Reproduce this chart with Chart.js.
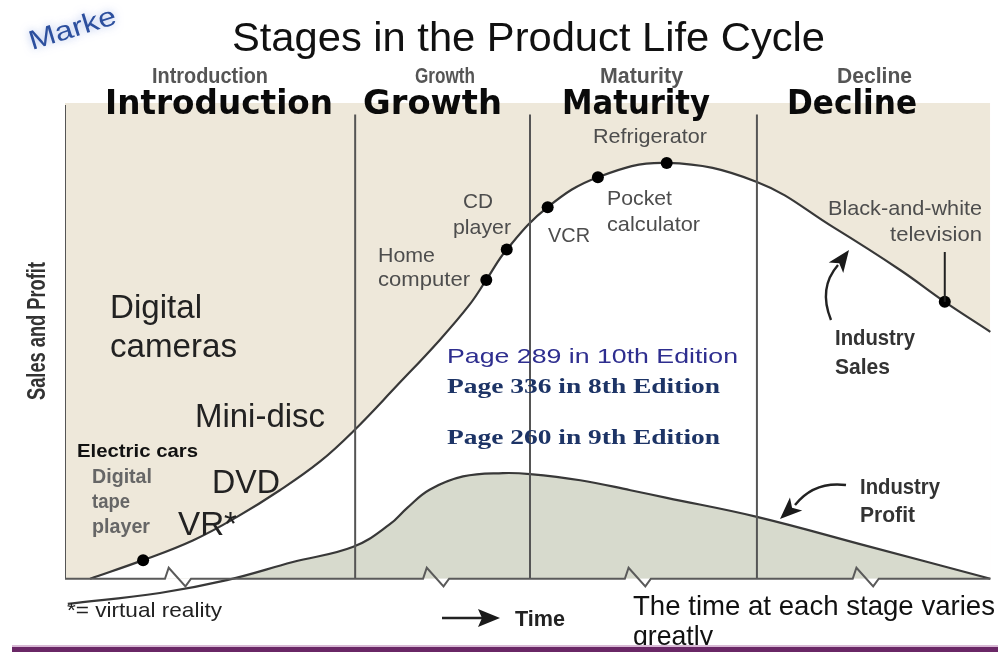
<!DOCTYPE html>
<html>
<head>
<meta charset="utf-8">
<style>
  html, body { margin: 0; padding: 0; background: #fff; overflow: hidden; }
  canvas { display: block; }
</style>
<script src="https://cdn.jsdelivr.net/npm/chart.js@4/dist/chart.umd.min.js"></script>
</head>
<body>
<canvas id="plc" width="998" height="652" style="width:998px;height:652px"></canvas>
<script>
// Industry sales curve (time 0-100, sales index)
const salesX = [2.7, 8.4, 13.8, 18.5, 23.1, 27.4, 31.0, 35.7, 40.3, 43.5, 45.3, 47.5, 51.9, 57.3, 64.7, 74.4, 82.6, 89.8, 94.6, 99.5];
const salesY = [0, 3.9, 8.1, 13.0, 18.6, 24.6, 31.0, 40.6, 50.2, 57.6, 62.8, 69.2, 78.1, 84.4, 87.4, 83.4, 73.9, 64.9, 58.2, 51.9];
// products sitting on the sales curve ('' = no dot)
const productLabels = ['', 'Digital tape player', '', '', '', '', '', '', '', '', 'Home computer', 'CD player', 'VCR', 'Pocket calculator', 'Refrigerator', '', '', '', 'Black-and-white television', ''];

// Industry profit curve
const profitX = [0.3, 10.2, 17.4, 24.5, 31.0, 34.9, 36.8, 39.2, 42.8, 47.1, 50.0, 55.4, 60.8, 64.7, 74.4, 86.2, 99.5];
const profitY = [-5.3, -3.0, -0.3, 3.5, 6.7, 11.4, 14.9, 18.7, 21.5, 22.2, 22.0, 20.7, 18.6, 17.0, 13.0, 6.9, 0];

// stages and where they end on the time axis
const stageNames = ['Introduction', 'Growth', 'Maturity', 'Decline'];
const stageBounds = [31.2, 50.0, 74.4];
// the little zigzag breaks on the time axis
const breakMarks = [10.75, 38.5, 60.2, 84.7];

// colours
const beige = '#eee8da';
const profitGrey = '#d7dacd';
const curveColor = '#383838';
const rulerColor = '#555555';

function pts(xs, ys) {
    return xs.map((x, i) => ({ x: x, y: ys[i] }));
}

// time axis with zigzags
const zig = [[0, 0], [0.4, 2.3], [2.2, -1.6], [2.8, 0]];
const baseline = [{ x: 0, y: 0 }];
breakMarks.forEach(b => zig.forEach(z => baseline.push({ x: b + z[0], y: z[1] })));
baseline.push({ x: 99.5, y: 0 });

// vertical stage separators (0 = the left axis)
const dividerSets = [0].concat(stageBounds).map(b => ({
    data: [{ x: b, y: 0 }, { x: b, y: b === 0 ? 99.6 : 97.6 }],
    borderColor: rulerColor, borderWidth: 2, pointRadius: 0, tension: 0, fill: false, order: 1
}));

// text, px positions on the canvas (baseline)
const L = '"Liberation Sans", Arial, sans-serif';
const D = '"DejaVu Sans", sans-serif';
const texts = [
    { t: 'Stages in the Product Life Cycle', x: 232, y: 51, size: 40, w: 593, color: '#111' },
    // small stage heads
    { t: stageNames[0], x: 152, y: 83, size: 22, w: 116, bold: true, color: '#555' },
    { t: stageNames[1], x: 415, y: 83, size: 22, w: 60, bold: true, color: '#555' },
    { t: stageNames[2], x: 600, y: 83, size: 22, w: 83, bold: true, color: '#555' },
    { t: stageNames[3], x: 837, y: 83, size: 22, w: 75, bold: true, color: '#555' },
    // big stage heads
    { t: stageNames[0], x: 105, y: 114, size: 33, w: 228, bold: true, family: D, color: '#0a0a0a' },
    { t: stageNames[1], x: 363, y: 114, size: 33, w: 139, bold: true, family: D, color: '#0a0a0a' },
    { t: stageNames[2], x: 562, y: 114, size: 33, w: 148, bold: true, family: D, color: '#0a0a0a' },
    { t: stageNames[3], x: 787, y: 114, size: 33, w: 130, bold: true, family: D, color: '#0a0a0a' },
    // axis title
    { t: 'Sales and Profit', x: 45, y: 331, size: 25, w: 138, bold: true, color: '#333', align: 'center', rot: -Math.PI / 2 },
    // product labels
    { t: 'CD', x: 463, y: 208, size: 21, w: 30, color: '#4d4d4d' },
    { t: 'player', x: 453, y: 234, size: 21, w: 58, color: '#4d4d4d' },
    { t: 'Home', x: 378, y: 262, size: 21, w: 57, color: '#4d4d4d' },
    { t: 'computer', x: 378, y: 286, size: 21, w: 92, color: '#4d4d4d' },
    { t: 'VCR', x: 548, y: 242, size: 21, w: 42, color: '#4d4d4d' },
    { t: 'Pocket', x: 607, y: 205, size: 21, w: 65, color: '#4d4d4d' },
    { t: 'calculator', x: 607, y: 231, size: 21, w: 93, color: '#4d4d4d' },
    { t: 'Refrigerator', x: 593, y: 143, size: 21, w: 114, color: '#4d4d4d' },
    { t: 'Black-and-white', x: 828, y: 215, size: 21, w: 154, color: '#4d4d4d' },
    { t: 'television', x: 890, y: 241, size: 21, w: 92, color: '#4d4d4d' },
    { t: 'Industry', x: 835, y: 345, size: 22, w: 80, bold: true, color: '#333' },
    { t: 'Sales', x: 835, y: 374, size: 22, w: 55, bold: true, color: '#333' },
    { t: 'Industry', x: 860, y: 494, size: 22, w: 80, bold: true, color: '#333' },
    { t: 'Profit', x: 860, y: 522, size: 22, w: 55, bold: true, color: '#333' },
    // slide additions
    { t: 'Digital', x: 110, y: 318, size: 33, w: 92, color: '#222' },
    { t: 'cameras', x: 110, y: 357, size: 33, w: 127, color: '#222' },
    { t: 'Mini-disc', x: 195, y: 427, size: 33, w: 130, color: '#222' },
    { t: 'DVD', x: 212, y: 493, size: 33, w: 68, color: '#222' },
    { t: 'VR*', x: 178, y: 535, size: 33, w: 59, color: '#222' },
    { t: 'Electric cars', x: 77, y: 457, size: 19, w: 121, bold: true, color: '#111' },
    { t: 'Digital', x: 92, y: 483, size: 21, w: 60, bold: true, color: '#666' },
    { t: 'tape', x: 92, y: 508, size: 21, w: 38, bold: true, color: '#666' },
    { t: 'player', x: 92, y: 533, size: 21, w: 58, bold: true, color: '#666' },
    { t: '*= virtual reality', x: 67, y: 617, size: 21, w: 155, color: '#222' },
    { t: 'Page 289 in 10th Edition', x: 447, y: 363, size: 21, w: 291, color: '#2e2e8f' },
    { t: 'Page 336 in 8th Edition', x: 447, y: 393, size: 21, w: 273, bold: true, family: '"Liberation Serif", serif', color: '#1d3466' },
    { t: 'Page 260 in 9th Edition', x: 447, y: 444, size: 21, w: 273, bold: true, family: '"Liberation Serif", serif', color: '#1d3466' },
    { t: 'Time', x: 515, y: 626, size: 22, w: 50, bold: true, color: '#222' },
    { t: 'The time at each stage varies', x: 633, y: 615, size: 28, w: 362, color: '#111' },
    { t: 'greatly', x: 633, y: 645, size: 28, w: 80, color: '#111' }
];

function drawText(ctx, o) {
    ctx.save();
    ctx.font = (o.bold ? 'bold ' : '') + o.size + 'px ' + (o.family || L);
    const natural = ctx.measureText(o.t).width;
    const sx = o.w ? o.w / natural : 1;
    ctx.translate(o.x, o.y);
    if (o.rot) ctx.rotate(o.rot);
    ctx.scale(sx, 1);
    ctx.textAlign = o.align || 'left';
    ctx.textBaseline = 'alphabetic';
    ctx.fillStyle = o.color;
    ctx.fillText(o.t, 0, 0);
    ctx.restore();
}

function arrowHead(ctx, tx, ty, ang, len, half) {
    ctx.save();
    ctx.translate(tx, ty);
    ctx.rotate(ang);
    ctx.beginPath();
    ctx.moveTo(0, 0);
    ctx.lineTo(-len, -half);
    ctx.lineTo(-len * 0.75, 0);
    ctx.lineTo(-len, half);
    ctx.closePath();
    ctx.fill();
    ctx.restore();
}

const decorations = {
    id: 'decorations',
    afterDraw(chart) {
        const ctx = chart.ctx;
        const xs = chart.scales.x, ys = chart.scales.y;

        // cut-off slide header
        ctx.save();
        ctx.translate(32, 50);
        ctx.rotate(-0.3);
        ctx.shadowColor = 'rgba(110,140,220,0.6)';
        ctx.shadowBlur = 8;
        drawText(ctx, { t: 'Marke', x: 0, y: 0, size: 27, w: 90, color: '#2c4f9e' });
        ctx.restore();

        texts.forEach(o => drawText(ctx, o));

        // leader from the B&W television label to its dot
        const tv = productLabels.indexOf('Black-and-white television');
        const tvx = xs.getPixelForValue(salesX[tv]);
        ctx.strokeStyle = '#222';
        ctx.lineWidth = 2;
        ctx.beginPath();
        ctx.moveTo(tvx, 252);
        ctx.lineTo(tvx, ys.getPixelForValue(salesY[tv]));
        ctx.stroke();

        // curved pointer arrows
        ctx.fillStyle = '#1a1a1a';
        ctx.lineWidth = 2.4;
        ctx.beginPath();
        ctx.moveTo(831, 320);
        ctx.quadraticCurveTo(818, 288, 838, 265);
        ctx.stroke();
        arrowHead(ctx, 849, 250, Math.atan2(250 - 265, 849 - 838), 22, 9);

        ctx.beginPath();
        ctx.moveTo(846, 485);
        ctx.quadraticCurveTo(814, 481, 795, 505);
        ctx.stroke();
        arrowHead(ctx, 780, 519, Math.atan2(519 - 505, 780 - 795), 22, 9);

        // time arrow
        ctx.lineWidth = 2.5;
        ctx.beginPath();
        ctx.moveTo(442, 618);
        ctx.lineTo(484, 618);
        ctx.stroke();
        ctx.beginPath();
        ctx.moveTo(500, 618);
        ctx.lineTo(478, 609);
        ctx.lineTo(482, 618);
        ctx.lineTo(478, 627);
        ctx.closePath();
        ctx.fill();

        // slide footer bar
        ctx.fillStyle = '#d8b9d5';
        ctx.fillRect(12, 645, 986, 2);
        ctx.fillStyle = '#6a2766';
        ctx.fillRect(12, 647, 986, 5);
    }
};

new Chart(document.getElementById('plc'), {
    type: 'line',
    data: {
        datasets: [
            {
                label: 'Industry Sales',
                data: pts(salesX, salesY),
                borderColor: curveColor,
                borderWidth: 2.2,
                tension: 0.4,
                pointRadius: c => productLabels[c.dataIndex] ? 6 : 0,
                pointBackgroundColor: '#000',
                pointBorderWidth: 0,
                fill: { target: { value: 0 }, above: '#ffffff', below: '#ffffff' },
                order: 3
            },
            {
                label: 'Industry Profit',
                data: pts(profitX, profitY),
                borderColor: curveColor,
                borderWidth: 2.2,
                tension: 0.4,
                pointRadius: 0,
                fill: { target: { value: 0 }, above: profitGrey, below: 'rgba(0,0,0,0)' },
                order: 2
            },
            {
                label: 'stage area',
                data: [{ x: 0, y: 100 }, { x: 99.5, y: 100 }],
                borderWidth: 0,
                pointRadius: 0,
                tension: 0,
                fill: { target: { value: 0 }, above: beige },
                order: 5
            },
            {
                label: 'time axis',
                data: baseline,
                borderColor: '#5a5a5a',
                borderWidth: 2,
                pointRadius: 0,
                tension: 0,
                fill: false,
                order: 1
            }
        ].concat(dividerSets)
    },
    options: {
        responsive: false,
        animation: false,
        devicePixelRatio: 1,
        layout: { padding: { left: 65, right: 3, top: 103, bottom: 40 } },
        plugins: { legend: { display: false }, tooltip: { enabled: false } },
        scales: {
            x: { type: 'linear', min: 0, max: 100, display: false },
            y: { type: 'linear', min: -7, max: 100, display: false }
        }
    },
    plugins: [decorations]
});
</script>
</body>
</html>
